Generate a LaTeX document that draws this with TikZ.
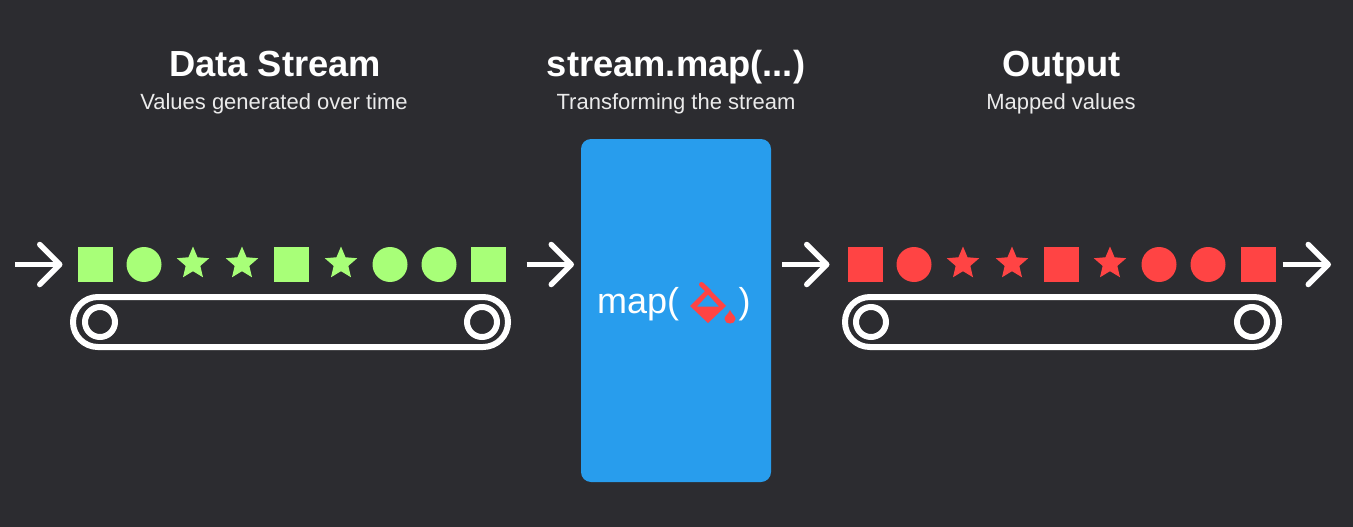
\documentclass[tikz,border=0pt]{standalone}
\usepackage{fontspec}
\setmainfont{Liberation Sans}
\usetikzlibrary{shapes.geometric}
\usetikzlibrary{arrows.meta}
\definecolor{bgdark}{HTML}{2C2C30}
\definecolor{shapegreen}{HTML}{A8FF78}
\definecolor{shapered}{HTML}{FF4444}
\definecolor{mapblue}{HTML}{289DED}
\tikzset{
title/.style={text=white,font=\fontsize{36.3}{40}\bfseries\selectfont,inner sep=0pt,anchor=base},
subtitle/.style={text=white!92!black,font=\fontsize{22}{25}\selectfont,inner sep=0pt,anchor=base},
sq/.style={rectangle,minimum size=35pt,inner sep=0pt,outer sep=0pt},
ci/.style={circle,minimum size=35pt,inner sep=0pt,outer sep=0pt},
st/.style={star,star points=5,star point ratio=2.2,minimum size=34pt,inner sep=0pt,outer sep=0pt,yshift=1pt},
flow/.style={draw=white,line width=5.5pt,-{Straight Barb[length=20pt,width=40pt,round]}},
belt/.style={draw=white,line width=6pt,rounded corners=24.9pt},
wheel/.style={circle,draw=white,line width=6pt,minimum size=30pt,inner sep=0pt},
maplabel/.style={text=white,font=\fontsize{36}{40}\selectfont,inner sep=0pt,anchor=base west},
}
\begin{document}
\begin{tikzpicture}[x=1pt,y=-1pt]
\useasboundingbox[fill=bgdark] (0,0) rectangle (1353,527);
% the headers
\node[title] (titlein) at (275,77) {Data Stream};
\node[subtitle] (subin) at (274,110) {Values generated over time};
\node[title] (titlemap) at (676,77) {stream.map(...)};
\node[subtitle] (submap) at (676,110) {Transforming the stream};
\node[title] (titleout) at (1061.5,77) {Output};
\node[subtitle] (subout) at (1061,110) {Mapped values};
% the map box
\node[fill=mapblue,rectangle,rounded corners=10pt,minimum width=190pt,minimum height=343pt,inner sep=0pt,outer sep=0pt] (mapbox) at (676,310.5) {};
\node[maplabel] (maptext) at (597,313.5) {map(};
\node[maplabel] (mapclose) at (738.5,313.5) {)};
% the bucket
\fill[shapered,even odd rule] (690,306) -- (708,288) -- (726,306) -- (708,323) -- cycle
  (697,306.5) -- (719,306.5) -- (708,294.5) -- cycle;
\draw[shapered,line width=5pt,line cap=round] (701.5,284.5) -- (709,291.5);
\fill[shapered] (730,310) .. controls (731.5,314) and (735.5,316) .. (735.5,319) .. controls (735.5,325) and (724.5,325) .. (724.5,319) .. controls (724.5,316) and (728.5,314) .. (730,310) -- cycle;
% the shapes
\foreach \x/\kind [count=\i] in {95/sq,144/ci,193/st,242/st,291/sq,341/st,390/ci,439/ci,488/sq}
{
  \node[\kind,fill=shapegreen] (in\i) at (\x,264.5) {};
}
\foreach \x/\kind [count=\i] in {865/sq,914/ci,963/st,1012/st,1061/sq,1110/st,1159/ci,1208/ci,1258/sq}
{
  \node[\kind,fill=shapered] (out\i) at (\x,264.5) {};
}
% the arrows
\coordinate (startin) at (15,264.5);
\coordinate (endout) at (1331,264.5);
\coordinate (mapleft) at (mapbox.west |- in9.east);
\coordinate (mapright) at (mapbox.east |- out1.west);
\draw[flow] (startin) -- ([xshift=-15pt]in1.west);
\draw[flow] ([xshift=21pt]in9.east) -- ([xshift=-7pt]mapleft);
\draw[flow] ([xshift=11pt]mapright) -- ([xshift=-18pt]out1.west);
\draw[flow] ([xshift=7pt]out9.east) -- (endout);
% the belts
\node[wheel] (wheelina) at (100,322) {};
\node[wheel] (wheelinb) at (482,322) {};
\node[wheel] (wheelouta) at (871,322) {};
\node[wheel] (wheeloutb) at (1252,322) {};
\draw[belt] (73,297) rectangle (508,347);
\draw[belt] (845,297) rectangle (1279,347);
\end{tikzpicture}
\end{document}
